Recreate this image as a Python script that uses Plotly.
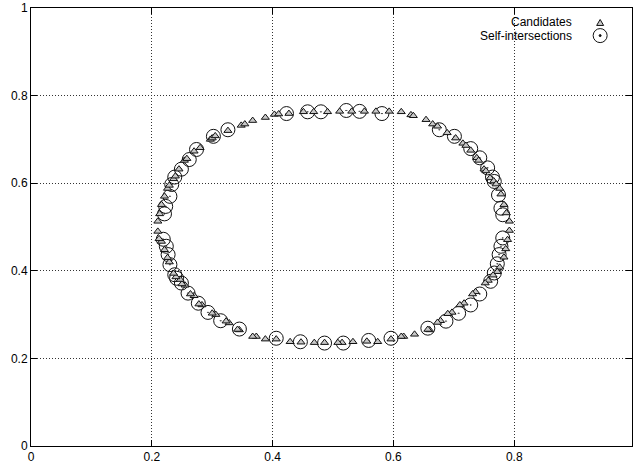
"""Candidate points and self-intersections of a closed curve."""

import plotly.graph_objects as go

# candidate points (triangles), read around the curve
cand_x = [
    0.326, 0.348, 0.354, 0.367, 0.388, 0.403, 0.410, 0.427, 0.451, 0.468,
    0.491, 0.511, 0.531, 0.552, 0.571, 0.593, 0.613, 0.629, 0.633, 0.654,
    0.665, 0.673, 0.689, 0.703, 0.715, 0.720, 0.728, 0.738, 0.741, 0.750,
    0.753, 0.760, 0.766, 0.770, 0.776, 0.778, 0.783, 0.787, 0.792, 0.792,
    0.789, 0.786, 0.783, 0.776, 0.772, 0.765, 0.757, 0.752, 0.736, 0.731,
    0.717, 0.710, 0.697, 0.690, 0.678, 0.673, 0.660, 0.657, 0.635, 0.617,
    0.613, 0.596, 0.574, 0.556, 0.533, 0.515, 0.508, 0.486, 0.469, 0.447,
    0.429, 0.406, 0.388, 0.373, 0.367, 0.345, 0.342, 0.328, 0.323, 0.306,
    0.300, 0.283, 0.278, 0.270, 0.264, 0.255, 0.250, 0.247, 0.240, 0.236,
    0.229, 0.226, 0.221, 0.216, 0.212, 0.210, 0.210, 0.213, 0.216, 0.221,
    0.226, 0.229, 0.236, 0.239, 0.245, 0.254, 0.258, 0.270, 0.280, 0.297,
    0.300, 0.305,
]
cand_y = [
    0.720, 0.732, 0.735, 0.743, 0.750, 0.757, 0.758, 0.759, 0.763, 0.763,
    0.763, 0.764, 0.764, 0.764, 0.764, 0.764, 0.763, 0.756, 0.754, 0.745,
    0.735, 0.730, 0.715, 0.703, 0.691, 0.686, 0.675, 0.658, 0.652, 0.632,
    0.628, 0.612, 0.605, 0.598, 0.588, 0.575, 0.551, 0.532, 0.513, 0.492,
    0.471, 0.450, 0.431, 0.408, 0.398, 0.390, 0.378, 0.372, 0.352, 0.347,
    0.326, 0.322, 0.305, 0.302, 0.286, 0.282, 0.265, 0.266, 0.255, 0.250,
    0.250, 0.244, 0.238, 0.239, 0.238, 0.236, 0.236, 0.236, 0.236, 0.237,
    0.238, 0.244, 0.244, 0.250, 0.250, 0.265, 0.266, 0.281, 0.285, 0.300,
    0.303, 0.322, 0.324, 0.343, 0.347, 0.367, 0.370, 0.380, 0.386, 0.394,
    0.420, 0.430, 0.448, 0.467, 0.473, 0.490, 0.513, 0.530, 0.551, 0.570,
    0.588, 0.595, 0.610, 0.616, 0.632, 0.652, 0.656, 0.673, 0.681, 0.700,
    0.703, 0.708,
]

# self-intersections (circles)
inter_x = [
    0.274, 0.302, 0.326, 0.423, 0.458, 0.480, 0.522, 0.544, 0.581, 0.676,
    0.701, 0.728, 0.743, 0.756, 0.764, 0.767, 0.774, 0.778, 0.781, 0.781,
    0.778, 0.775, 0.772, 0.767, 0.761, 0.743, 0.728, 0.708, 0.687, 0.657,
    0.596, 0.559, 0.517, 0.486, 0.446, 0.406, 0.345, 0.314, 0.293, 0.277,
    0.260, 0.249, 0.241, 0.238, 0.230, 0.227, 0.224, 0.219, 0.221, 0.223,
    0.230, 0.233, 0.238, 0.249, 0.262,
]
inter_y = [
    0.677, 0.707, 0.722, 0.759, 0.763, 0.763, 0.766, 0.764, 0.759, 0.722,
    0.707, 0.679, 0.658, 0.635, 0.614, 0.604, 0.573, 0.543, 0.528, 0.475,
    0.456, 0.437, 0.416, 0.395, 0.376, 0.347, 0.322, 0.303, 0.285, 0.269,
    0.246, 0.241, 0.235, 0.235, 0.238, 0.246, 0.267, 0.286, 0.305, 0.326,
    0.349, 0.372, 0.383, 0.391, 0.414, 0.437, 0.456, 0.472, 0.530, 0.547,
    0.570, 0.597, 0.614, 0.632, 0.654,
]

x_ticks = [0, 0.2, 0.4, 0.6, 0.8]
x_ticktext = ["0", "0.2", "0.4", "0.6", "0.8"]
y_ticks = [0, 0.2, 0.4, 0.6, 0.8, 1]
y_ticktext = ["0", "0.2", "0.4", "0.6", "0.8", "1"]

FONT = "Liberation Sans, Arial, Helvetica, sans-serif"

fig = go.Figure()
fig.add_trace(
    go.Scatter(
        x=inter_x,
        y=inter_y,
        mode="markers",
        name="Self-intersections",
        marker=dict(symbol="circle-open-dot", size=14, color="#111",
                    line=dict(width=1)),
    )
)
fig.add_trace(
    go.Scatter(
        x=cand_x,
        y=cand_y,
        mode="markers",
        name="Candidates",
        marker=dict(symbol="triangle-up", size=7, color="#c8c8c8",
                    line=dict(width=1, color="#111")),
    )
)

axis_common = dict(
    showgrid=True,
    gridcolor="#333",
    griddash="1px,2px",
    gridwidth=1,
    zeroline=False,
    showline=True,
    linecolor="black",
    linewidth=1,
    mirror="ticks",
    ticks="inside",
    ticklen=6,
    tickcolor="black",
    tickfont=dict(family=FONT, size=12, color="black"),
)
fig.update_xaxes(range=[0, 0.995], tickvals=x_ticks, ticktext=x_ticktext,
                 **axis_common)
fig.update_yaxes(range=[0, 1], tickvals=y_ticks, ticktext=y_ticktext,
                 **axis_common)

# legend drawn gnuplot-style: text right-aligned, symbol to its right
for label, yp in [("Candidates", 0.967), ("Self-intersections", 0.937)]:
    fig.add_annotation(
        text=label, xref="paper", yref="paper", x=0.903, y=yp,
        xanchor="right", yanchor="middle", showarrow=False,
        font=dict(family=FONT, size=12, color="black"),
    )
fig.add_shape(
    type="path", xref="paper", yref="paper", xsizemode="pixel",
    ysizemode="pixel", xanchor=0.947, yanchor=0.967,
    path="M -3.5 -3 L 3.5 -3 L 0 3 Z",
    line=dict(color="#111", width=1), fillcolor="#c8c8c8",
)
fig.add_shape(
    type="circle", xref="paper", yref="paper", xsizemode="pixel",
    ysizemode="pixel", xanchor=0.947, yanchor=0.937,
    x0=-7, x1=7, y0=-7, y1=7, line=dict(color="#111", width=1),
)
fig.add_shape(
    type="circle", xref="paper", yref="paper", xsizemode="pixel",
    ysizemode="pixel", xanchor=0.947, yanchor=0.937,
    x0=-1, x1=1, y0=-1, y1=1, line=dict(color="#111", width=1),
    fillcolor="#111",
)

fig.update_layout(
    width=634,
    height=466,
    showlegend=False,
    plot_bgcolor="white",
    paper_bgcolor="white",
    margin=dict(l=31, r=2, t=8, b=20),
    font=dict(family=FONT, size=12, color="black"),
)

# drop the page's default body margin so the figure sits at the window origin
fig.write_html(
    "out.html",
    config={"displayModeBar": False},
    post_script="document.body.style.margin='0';",
)
